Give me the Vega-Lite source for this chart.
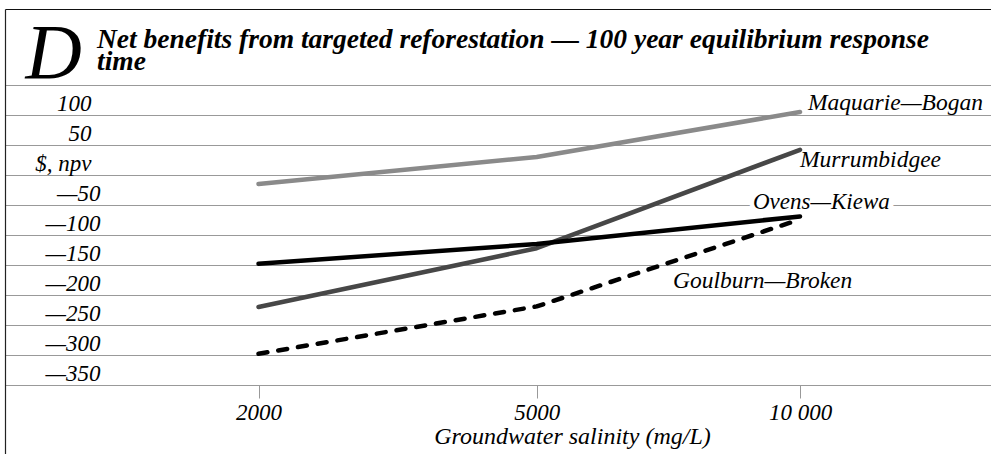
{
  "$schema": "https://vega.github.io/schema/vega-lite/v6.json",
  "width": 986,
  "height": 445,
  "autosize": {"type": "none"},
  "padding": {"left": 5, "top": 9, "right": 0, "bottom": 0},
  "background": "white",
  "config": {"view": {"stroke": null}, "font": "'Liberation Serif', 'Times New Roman', Times, serif"},
  "title": {
    "text": ["Net benefits from targeted reforestation — 100 year equilibrium response", "time"],
    "anchor": "start",
    "frame": "group",
    "orient": "top",
    "offset": -88,
    "dx": 92,
    "baseline": "alphabetic",
    "font": "'Liberation Serif', 'Times New Roman', Times, serif",
    "fontSize": 27.5,
    "fontStyle": "italic",
    "fontWeight": "bold",
    "lineHeight": 22,
    "color": "black"
  },
  "data": {
    "values": [
      {"series": "Maquarie—Bogan", "salinity": 2000, "npv": -40},
      {"series": "Maquarie—Bogan", "salinity": 5000, "npv": 5},
      {"series": "Maquarie—Bogan", "salinity": 10000, "npv": 80},
      {"series": "Murrumbidgee", "salinity": 2000, "npv": -245},
      {"series": "Murrumbidgee", "salinity": 5000, "npv": -147},
      {"series": "Murrumbidgee", "salinity": 10000, "npv": 17},
      {"series": "Ovens—Kiewa", "salinity": 2000, "npv": -173},
      {"series": "Ovens—Kiewa", "salinity": 5000, "npv": -140},
      {"series": "Ovens—Kiewa", "salinity": 10000, "npv": -94},
      {"series": "Goulburn—Broken", "salinity": 2000, "npv": -323},
      {"series": "Goulburn—Broken", "salinity": 5000, "npv": -244},
      {"series": "Goulburn—Broken", "salinity": 10000, "npv": -99}
    ]
  },
  "encoding": {
    "x": {
      "field": "salinity",
      "type": "quantitative",
      "scale": {"type": "pow", "exponent": 0.28, "domain": [661, 15373], "zero": false, "nice": false},
      "axis": {
        "orient": "bottom",
        "offset": -69,
        "values": [2000, 5000, 10000],
        "grid": false,
        "domain": false,
        "ticks": true,
        "tickSize": 13,
        "tickColor": "#999999",
        "tickWidth": 1,
        "labelExpr": "datum.value == 10000 ? '10 000' : '' + datum.value",
        "labelFont": "'Liberation Serif', 'Times New Roman', Times, serif",
        "labelFontStyle": "italic",
        "labelFontSize": 23,
        "labelColor": "black",
        "labelPadding": 3,
        "title": "Groundwater salinity  (mg/L)",
        "titleX": 567,
        "titleY": 58,
        "titleAlign": "center",
        "titleBaseline": "alphabetic",
        "titleFont": "'Liberation Serif', 'Times New Roman', Times, serif",
        "titleFontSize": 24,
        "titleFontStyle": "italic",
        "titleFontWeight": "normal",
        "titleColor": "black"
      }
    },
    "y": {
      "field": "npv",
      "type": "quantitative",
      "scale": {"domain": [-490, 251.67], "zero": false, "nice": false},
      "axis": {
        "orient": "left",
        "values": [226.67, 100, 50, 0, -50, -100, -150, -200, -250, -300, -350, -400],
        "grid": true,
        "gridColor": {"condition": {"test": "datum.value > 200", "value": "#111111"}, "value": "#999999"},
        "gridWidth": 1.2,
        "tickOffset": -15,
        "ticks": false,
        "tickSize": 0,
        "domain": true,
        "domainColor": "#222222",
        "domainWidth": 1.2,
        "labelExpr": "datum.value > 200 || datum.value < -375 ? '' : datum.value == 0 ? '$, npv' : datum.value < 0 ? '—' + (-datum.value) : '' + datum.value",
        "labelAlign": "right",
        "labelBaseline": "middle",
        "labelPadding": {"condition": {"test": "datum.value < 0", "value": -95}, "value": -86},
        "labelOffset": 18,
        "labelFont": "'Liberation Serif', 'Times New Roman', Times, serif",
        "labelFontStyle": "italic",
        "labelFontSize": 23,
        "labelColor": "black",
        "title": "D",
        "titleAngle": 0,
        "titleAlign": "left",
        "titleBaseline": "alphabetic",
        "titleX": 20,
        "titleY": 68,
        "titleFont": "'Liberation Serif', 'Times New Roman', Times, serif",
        "titleFontSize": 78,
        "titleFontStyle": "italic",
        "titleFontWeight": "normal",
        "titleColor": "black"
      }
    }
  },
  "layer": [
    {
      "transform": [{"filter": "datum.series == 'Ovens—Kiewa' && datum.salinity == 10000"}],
      "mark": {"type": "text", "align": "left", "baseline": "alphabetic", "dx": -47, "dy": -7, "fontSize": 23, "fontStyle": "italic", "font": "'Liberation Serif', 'Times New Roman', Times, serif", "stroke": "white", "strokeWidth": 9, "fill": "white"},
      "encoding": {"text": {"field": "series"}}
    },
    {
      "transform": [{"filter": "datum.series != 'Goulburn—Broken'"}],
      "mark": {"type": "line", "strokeWidth": 4.5, "strokeCap": "round", "strokeJoin": "round"},
      "encoding": {
        "color": {
          "field": "series",
          "type": "nominal",
          "scale": {"domain": ["Maquarie—Bogan", "Murrumbidgee", "Ovens—Kiewa"], "range": ["#8a8a8a", "#474747", "#000000"]},
          "legend": null
        }
      }
    },
    {
      "transform": [{"filter": "datum.series == 'Goulburn—Broken'"}],
      "mark": {"type": "line", "strokeWidth": 4.5, "strokeCap": "round", "strokeJoin": "round", "strokeDash": [9, 11], "color": "#000000"},
      "encoding": {}
    },
    {
      "transform": [{"filter": "datum.series == 'Maquarie—Bogan' && datum.salinity == 10000"}],
      "mark": {"type": "text", "align": "left", "baseline": "alphabetic", "dx": 8, "dy": -2, "fontSize": 23.5, "fontStyle": "italic", "font": "'Liberation Serif', 'Times New Roman', Times, serif", "color": "black"},
      "encoding": {"text": {"field": "series"}}
    },
    {
      "transform": [{"filter": "datum.series == 'Murrumbidgee' && datum.salinity == 10000"}],
      "mark": {"type": "text", "align": "left", "baseline": "alphabetic", "dx": 0, "dy": 17, "fontSize": 23.5, "fontStyle": "italic", "font": "'Liberation Serif', 'Times New Roman', Times, serif", "color": "black"},
      "encoding": {"text": {"field": "series"}}
    },
    {
      "transform": [{"filter": "datum.series == 'Ovens—Kiewa' && datum.salinity == 10000"}],
      "mark": {"type": "text", "align": "left", "baseline": "alphabetic", "dx": -47, "dy": -7, "fontSize": 23, "fontStyle": "italic", "font": "'Liberation Serif', 'Times New Roman', Times, serif", "color": "black"},
      "encoding": {"text": {"field": "series"}}
    },
    {
      "transform": [{"filter": "datum.series == 'Goulburn—Broken' && datum.salinity == 10000"}],
      "mark": {"type": "text", "align": "left", "baseline": "alphabetic", "dx": -127, "dy": 69, "fontSize": 23.5, "fontStyle": "italic", "font": "'Liberation Serif', 'Times New Roman', Times, serif", "color": "black"},
      "encoding": {"text": {"field": "series"}}
    }
  ]
}
